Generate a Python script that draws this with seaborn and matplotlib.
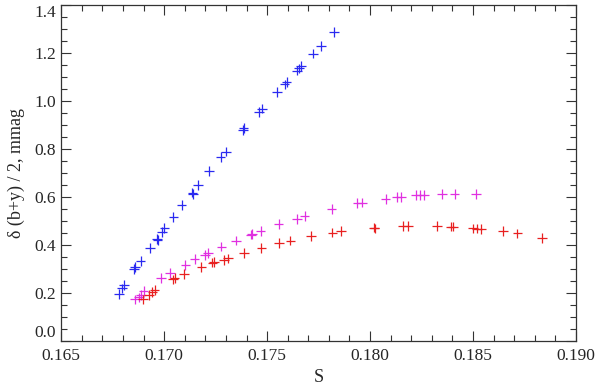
import matplotlib
matplotlib.use("Agg")
import matplotlib.pyplot as plt
from matplotlib.ticker import MultipleLocator, FormatStrFormatter
import pandas as pd
import seaborn as sns

# values
blue_s = [0.17826, 0.17761, 0.17722, 0.17666, 0.17654, 0.17645, 0.17595, 0.17585,
          0.17548, 0.17475, 0.17462, 0.17386, 0.17383, 0.17299, 0.17274, 0.17217,
          0.17163, 0.17137, 0.17141, 0.17085, 0.17045, 0.17001, 0.16989, 0.16964,
          0.16968, 0.16931, 0.16886, 0.16858, 0.16853, 0.16805, 0.16795, 0.16781]
blue_v = [1.286, 1.228, 1.196, 1.144, 1.134, 1.125, 1.079, 1.068,
          1.037, 0.967, 0.954, 0.886, 0.879, 0.788, 0.765, 0.706,
          0.648, 0.617, 0.612, 0.564, 0.514, 0.470, 0.453, 0.424,
          0.420, 0.387, 0.332, 0.306, 0.298, 0.233, 0.218, 0.194]

pink_s = [0.16857, 0.16878, 0.16889, 0.16900, 0.16986, 0.17027, 0.17103, 0.17148,
          0.17197, 0.17213, 0.17278, 0.17350, 0.17423, 0.17428, 0.17468, 0.17556,
          0.17645, 0.17682, 0.17813, 0.17938, 0.17960, 0.18075, 0.18129, 0.18151,
          0.18224, 0.18244, 0.18261, 0.18349, 0.18410, 0.18514]
pink_v = [0.172, 0.180, 0.190, 0.208, 0.260, 0.283, 0.315, 0.339,
          0.356, 0.364, 0.392, 0.417, 0.442, 0.445, 0.457, 0.485,
          0.508, 0.520, 0.549, 0.573, 0.575, 0.591, 0.598, 0.598,
          0.606, 0.606, 0.606, 0.610, 0.611, 0.610]

red_s = [0.16897, 0.16926, 0.16943, 0.16954, 0.17043, 0.17051, 0.17095, 0.17181,
         0.17234, 0.17242, 0.17290, 0.17310, 0.17387, 0.17472, 0.17557, 0.17613,
         0.17713, 0.17817, 0.17860, 0.18018, 0.18022, 0.18159, 0.18184, 0.18326,
         0.18391, 0.18402, 0.18499, 0.18518, 0.18540, 0.18645, 0.18715, 0.18836]
red_v = [0.172, 0.190, 0.204, 0.211, 0.255, 0.260, 0.278, 0.306,
         0.325, 0.328, 0.337, 0.343, 0.366, 0.385, 0.408, 0.417,
         0.435, 0.450, 0.456, 0.471, 0.468, 0.478, 0.478, 0.478,
         0.475, 0.475, 0.468, 0.467, 0.464, 0.457, 0.447, 0.427]

df = pd.concat([
    pd.DataFrame({"S": blue_s, "v": blue_v, "set": "blue"}),
    pd.DataFrame({"S": pink_s, "v": pink_v, "set": "pink"}),
    pd.DataFrame({"S": red_s, "v": red_v, "set": "red"}),
])

sns.set_style("ticks")
plt.rcParams["font.family"] = ["Liberation Serif", "DejaVu Serif"]

fig, ax = plt.subplots(figsize=(6, 3.88), dpi=100)
fig.subplots_adjust(left=0.102, right=0.96, top=0.988, bottom=0.122)

sns.scatterplot(
    data=df, x="S", y="v", hue="set", marker="+", s=48, linewidth=0.9,
    palette={"blue": "#2a2af0", "pink": "#e030e0", "red": "#e82020"},
    legend=False, ax=ax,
)

ax.set_xlim(0.165, 0.190)
ax.set_ylim(0.0, 1.4)
ax.xaxis.set_major_locator(MultipleLocator(0.005))
ax.xaxis.set_minor_locator(MultipleLocator(0.001))
ax.yaxis.set_major_locator(MultipleLocator(0.2))
ax.yaxis.set_minor_locator(MultipleLocator(0.05))
ax.xaxis.set_major_formatter(FormatStrFormatter("%.3f"))
ax.yaxis.set_major_formatter(FormatStrFormatter("%.1f"))
ax.tick_params(which="both", direction="in", top=True, right=True,
               labelsize=12.5, width=0.8, color="#333333")
ax.tick_params(axis="x", which="both", pad=5)
ax.tick_params(which="major", length=7)
ax.tick_params(which="minor", length=4)
for sp in ax.spines.values():
    sp.set_linewidth(0.9)
    sp.set_color("#333333")

ax.set_xlabel("S", fontsize=13, labelpad=4)
ax.set_ylabel("δ (b+y) / 2, mmag", fontsize=13, labelpad=7)

# end labels sit inside the axis range, as in the reference
fig.canvas.draw()
for tick in ax.yaxis.get_major_ticks():
    loc = tick.get_loc()
    if abs(loc - 0.0) < 1e-9:
        tick.label1.set_verticalalignment("bottom")
    elif abs(loc - 1.4) < 1e-9:
        tick.label1.set_verticalalignment("top")

fig.savefig("out.png", dpi=100)
